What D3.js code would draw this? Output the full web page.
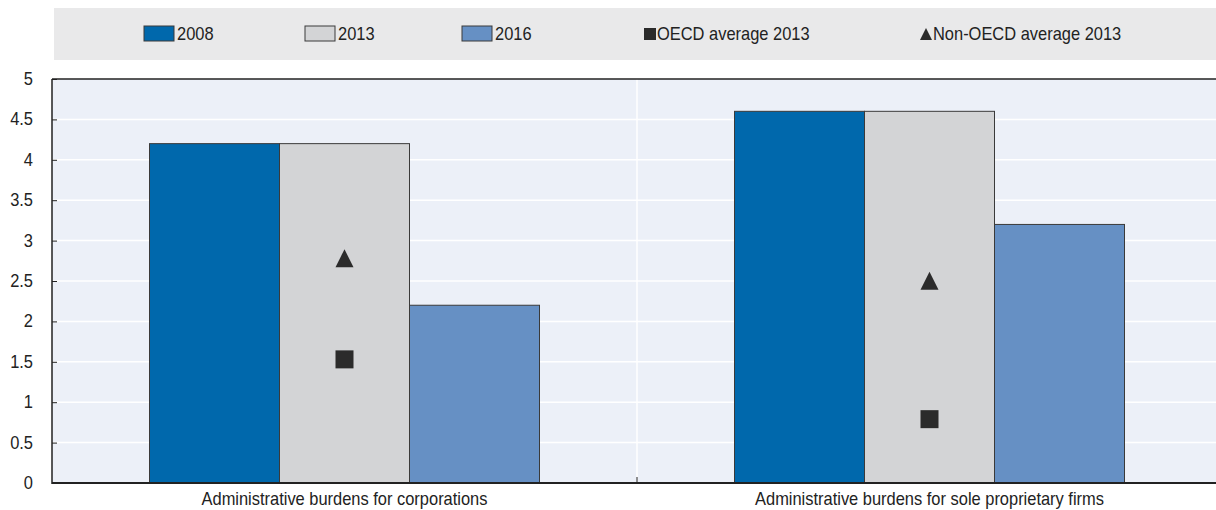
<!DOCTYPE html>
<html><head><meta charset="utf-8">
<script src="https://cdn.jsdelivr.net/npm/d3@7"></script>
<style>
body{margin:0;background:#fff;}
text{font-family:"Liberation Sans",Arial,sans-serif;fill:#222;}
</style></head>
<body><svg id="c" width="1216" height="510"></svg>
<script>
const categories = ["Administrative burdens for corporations","Administrative burdens for sole proprietary firms"];
const seriesNames = ["2008","2013","2016"];
const v2008 = [4.2, 4.6];
const v2013 = [4.2, 4.6];
const v2016 = [2.2, 3.2];
const oecd2013 = [1.53, 0.79];
const nonOecd2013 = [2.77, 2.49];
const yTicks = [0,0.5,1,1.5,2,2.5,3,3.5,4,4.5,5];
const colors = ["#0068ac","#d3d4d6","#6690c4"];

const SX = 0.94, FS = "17.5px";
const svg = d3.select("#c");
const L = 52, R = 1222, T = 79, B = 483;
const x = d3.scaleBand().domain(categories).range([L,R]);
const xs = d3.scaleBand().domain(seriesNames).range([0,x.bandwidth()]).paddingInner(0).paddingOuter(0.75);
const y = d3.scaleLinear().domain([0,5]).range([B,T]);

function label(sel, tx, ty, str, anchor){
  return sel.append("text").attr("transform",`translate(${tx},${ty}) scale(${SX},1)`)
    .attr("text-anchor",anchor||"start").style("font-size",FS).text(str);
}

// legend bg
svg.append("rect").attr("x",54).attr("y",8).attr("width",1162).attr("height",52).attr("fill","#e9e9ea");
// plot bg
svg.append("rect").attr("x",L).attr("y",T).attr("width",R-L).attr("height",B-T).attr("fill","#ecf0f8");
// grid
svg.append("g").selectAll("line").data(yTicks.slice(1,-1)).join("line")
  .attr("x1",L).attr("x2",R).attr("y1",d=>y(d)).attr("y2",d=>y(d)).attr("stroke","#fff").attr("stroke-width",1.5);
svg.append("line").attr("x1",x(categories[1])).attr("x2",x(categories[1])).attr("y1",T).attr("y2",B).attr("stroke","#fff").attr("stroke-width",1.5);

// bars
const series = [v2008,v2013,v2016];
categories.forEach((c,i)=>{
  const g = svg.append("g").attr("transform",`translate(${x(c)},0)`);
  g.selectAll("rect").data(seriesNames.map((s,j)=>({s,v:series[j][i],j}))).join("rect")
   .attr("x",d=>xs(d.s)).attr("width",xs.bandwidth()).attr("y",d=>y(d.v)).attr("height",d=>B-y(d.v))
   .attr("fill",d=>colors[d.j]).attr("stroke","#3a3a3a").attr("stroke-width",1);
});
// markers
const mx = c => x(c)+xs("2013")+xs.bandwidth()/2;
svg.append("g").selectAll("path").data(categories).join("path")
  .attr("d",d3.symbol().type(d3.symbolSquare).size(18*18))
  .attr("transform",(c,i)=>`translate(${mx(c)},${y(oecd2013[i])})`).attr("fill","#2b2b2b");
svg.append("g").selectAll("path").data(categories).join("path")
  .attr("d","M0,-10L9,8L-9,8Z")
  .attr("transform",(c,i)=>`translate(${mx(c)},${y(nonOecd2013[i])})`).attr("fill","#2b2b2b");

// axes
const ya = svg.append("g").attr("transform",`translate(${L},0)`)
  .call(d3.axisLeft(y).tickValues(yTicks).tickFormat(d3.format("")).tickSize(-5));
ya.select(".domain").remove();
ya.selectAll("line").attr("stroke","#222");
ya.selectAll("text").remove();
yTicks.forEach(t=>label(svg, 33, y(t)+6, d3.format("")(t), "end"));
svg.append("line").attr("x1",L).attr("x2",L).attr("y1",T).attr("y2",B+1).attr("stroke","#222").attr("stroke-width",1.5);
svg.append("line").attr("x1",L).attr("x2",R).attr("y1",T).attr("y2",T).attr("stroke","#222").attr("stroke-width",1.5);
svg.append("line").attr("x1",L).attr("x2",R).attr("y1",B).attr("y2",B).attr("stroke","#222").attr("stroke-width",2);
svg.append("line").attr("x1",x(categories[1])).attr("x2",x(categories[1])).attr("y1",B).attr("y2",B-6).attr("stroke","#222");
categories.forEach(c=>label(svg, x(c)+x.bandwidth()/2, 505, c, "middle"));

// legend
const lg = svg.append("g");
const legX = [144,305,462];
seriesNames.forEach((s,j)=>{
  lg.append("rect").attr("x",legX[j]).attr("y",26).attr("width",30).attr("height",15).attr("fill",colors[j]).attr("stroke","#3a3a3a").attr("stroke-width",1);
  label(lg, legX[j]+33, 40, s);
});
lg.append("rect").attr("x",644).attr("y",28).attr("width",12).attr("height",12).attr("fill","#2b2b2b");
label(lg, 657, 40, "OECD average 2013");
lg.append("path").attr("d","M926,28L932,40L920,40Z").attr("fill","#2b2b2b");
label(lg, 933, 40, "Non-OECD average 2013");
</script></body></html>
